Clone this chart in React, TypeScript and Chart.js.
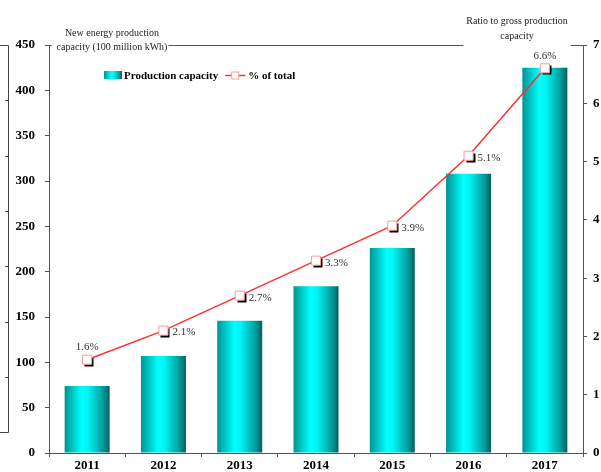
import React, { useEffect, useRef } from 'react';
import { Chart, registerables } from 'chart.js';

Chart.register(...registerables);

// ---- data ----
const years = ['2011', '2012', '2013', '2014', '2015', '2016', '2017'];
const capacity = [74, 107, 146, 184, 226, 308, 425];
const shareOfTotal = [1.6, 2.1, 2.7, 3.3, 3.9, 5.1, 6.6];
const shareLabelSide = ['above', 'right', 'right', 'right', 'right', 'right', 'above'];
const leftAxisTitle = ['New energy production', 'capacity (100 million kWh)'];
const rightAxisTitle = ['Ratio to gross production', 'capacity'];
const seriesNames = ['Production capacity', '% of total'];

const CANVAS_W = 612;
const CANVAS_H = 472;
const BAR_PCT = 0.59;
const SERIF = "'Liberation Serif', 'DejaVu Serif', serif";
const AXIS_COLOR = '#555';
const LINE_COLOR = '#ff3030';
const MARKER_BORDER = '#ff9a9a';

function barGradient(ctx: CanvasRenderingContext2D, x0: number, x1: number) {
  const g = ctx.createLinearGradient(x0, 0, x1, 0);
  g.addColorStop(0, '#009494');
  g.addColorStop(0.38, '#00ffff');
  g.addColorStop(0.52, '#00f4f4');
  g.addColorStop(0.85, '#009c9c');
  g.addColorStop(1, '#005e5e');
  return g;
}

const decorPlugin = {
  id: 'decor',
  beforeDatasetDraw(chart: any, args: any) {
    if (args.index !== 1) return;
    const ctx = chart.ctx as CanvasRenderingContext2D;
    ctx.save();
    ctx.fillStyle = '#000';
    args.meta.data.forEach((p: any) => {
      ctx.fillRect(Math.round(p.x) - 4.5 + 2, Math.round(p.y) - 4.5 + 2, 9, 9);
    });
    ctx.restore();
  },
  afterDraw(chart: any) {
    const ctx = chart.ctx as CanvasRenderingContext2D;
    const area = chart.chartArea;
    ctx.save();

    // titles
    ctx.font = `10px ${SERIF}`;
    ctx.fillStyle = '#222';
    ctx.textAlign = 'center';
    ctx.textBaseline = 'middle';
    const lcx = area.left + 63;
    ctx.fillText(leftAxisTitle[0], lcx, area.top - 12);
    ctx.fillText(leftAxisTitle[1], lcx, area.top + 2);
    const rcx = area.right - 66;
    ctx.fillText(rightAxisTitle[0], rcx, area.top - 24);
    ctx.fillText(rightAxisTitle[1], rcx, area.top - 9);
    const lw = ctx.measureText(leftAxisTitle[1]).width;
    const rw = ctx.measureText(rightAxisTitle[0]).width;

    // top border with gaps
    ctx.strokeStyle = AXIS_COLOR;
    ctx.lineWidth = 1;
    const ty = Math.round(area.top) + 0.5;
    ctx.beginPath();
    ctx.moveTo(area.left, ty);
    ctx.lineTo(lcx - lw / 2 - 5, ty);
    ctx.moveTo(lcx + lw / 2 + 1, ty);
    ctx.lineTo(rcx - rw / 2 - 3, ty);
    ctx.moveTo(rcx + rw / 2 + 3, ty);
    ctx.lineTo(area.right, ty);
    ctx.stroke();

    // partial frame of the neighbouring (cropped) panel on the far left
    ctx.strokeStyle = '#444';
    ctx.beginPath();
    ctx.moveTo(0, ty);
    ctx.lineTo(8.5, ty);
    ctx.lineTo(8.5, 432.5);
    ctx.lineTo(0, 432.5);
    for (let k = 1; k < 7; k++) {
      const yy = Math.round(area.top + k * 55.3) + 0.5;
      ctx.moveTo(5, yy);
      ctx.lineTo(8.5, yy);
    }
    ctx.stroke();

    // legend
    const lx = area.left + 55;
    const ly = area.top + 30;
    ctx.fillStyle = barGradient(ctx, lx, lx + 18);
    ctx.fillRect(lx, ly - 4, 18, 8);
    ctx.font = `bold 11px ${SERIF}`;
    ctx.fillStyle = '#000';
    ctx.textAlign = 'left';
    ctx.fillText(seriesNames[0], lx + 20, ly + 1);
    const t1w = ctx.measureText(seriesNames[0]).width;
    const l2 = lx + 20 + t1w + 7;
    ctx.strokeStyle = LINE_COLOR;
    ctx.lineWidth = 1.5;
    ctx.beginPath();
    ctx.moveTo(l2, ly + 0.5);
    ctx.lineTo(l2 + 20, ly + 0.5);
    ctx.stroke();
    ctx.fillStyle = '#fff';
    ctx.fillRect(l2 + 6.5, ly - 3, 7, 7);
    ctx.strokeStyle = MARKER_BORDER;
    ctx.lineWidth = 1;
    ctx.strokeRect(l2 + 6.5, ly - 3, 7, 7);
    ctx.fillStyle = '#000';
    ctx.fillText(seriesNames[1], l2 + 23, ly + 1);

    // data labels for the percentage line
    const meta = chart.getDatasetMeta(1);
    ctx.font = `11px ${SERIF}`;
    ctx.fillStyle = '#333';
    meta.data.forEach((p: any, i: number) => {
      const txt = shareOfTotal[i].toFixed(1) + '%';
      if (shareLabelSide[i] === 'above') {
        ctx.textAlign = 'center';
        ctx.textBaseline = 'bottom';
        ctx.fillText(txt, p.x, p.y - 7);
      } else {
        ctx.textAlign = 'left';
        ctx.textBaseline = 'middle';
        ctx.fillText(txt, p.x + 9, p.y + 2);
      }
    });
    ctx.restore();
  },
};

export default function App() {
  const ref = useRef<HTMLCanvasElement | null>(null);

  useEffect(() => {
    if (!ref.current) return;
    const chart = new Chart(ref.current, {
      type: 'bar',
      data: {
        labels: years,
        datasets: [
          {
            type: 'bar',
            label: seriesNames[0],
            data: capacity,
            yAxisID: 'y',
            order: 2,
            barPercentage: BAR_PCT,
            categoryPercentage: 1,
            borderWidth: 0,
            backgroundColor: (c: any) => {
              const ch = c.chart;
              const area = ch.chartArea;
              if (!area || c.dataIndex === undefined) return '#00cccc';
              const cx = ch.scales.x.getPixelForValue(c.dataIndex);
              const half = ((area.right - area.left) / years.length) * BAR_PCT / 2;
              return barGradient(ch.ctx, cx - half, cx + half);
            },
          } as any,
          {
            type: 'line',
            label: seriesNames[1],
            data: shareOfTotal,
            yAxisID: 'y1',
            order: 1,
            borderColor: LINE_COLOR,
            borderWidth: 1.5,
            pointStyle: 'rect',
            pointRadius: 6.4,
            pointBackgroundColor: '#fff',
            pointBorderColor: MARKER_BORDER,
            pointBorderWidth: 1,
            tension: 0,
          } as any,
        ],
      },
      options: {
        animation: false,
        responsive: false,
        devicePixelRatio: 1,
        layout: { padding: { top: 45, left: 0, right: 0, bottom: 0 } },
        plugins: {
          legend: { display: false },
          tooltip: { enabled: false },
        },
        scales: {
          x: {
            offset: true,
            grid: {
              offset: true,
              drawOnChartArea: false,
              tickLength: 4,
              color: AXIS_COLOR,
            },
            border: { display: true, color: AXIS_COLOR, width: 1 },
            ticks: {
              color: '#000',
              padding: 1,
              font: { family: SERIF, size: 13, weight: 'bold' },
              maxRotation: 0,
            },
            afterFit: (s: any) => {
              s.height = 19;
            },
          },
          y: {
            position: 'left',
            min: 0,
            max: 450,
            ticks: {
              stepSize: 50,
              color: '#000',
              padding: 10,
              font: { family: SERIF, size: 13, weight: 'bold' },
            },
            grid: { drawOnChartArea: false, tickLength: 4, color: AXIS_COLOR },
            border: { display: true, color: AXIS_COLOR, width: 1 },
            afterFit: (s: any) => {
              s.width = 49;
            },
          },
          y1: {
            position: 'right',
            min: 0,
            max: 7,
            ticks: {
              stepSize: 1,
              color: '#000',
              padding: 6,
              font: { family: SERIF, size: 13, weight: 'bold' },
            },
            grid: { drawOnChartArea: false, tickLength: 4, color: AXIS_COLOR },
            border: { display: true, color: AXIS_COLOR, width: 1 },
            afterFit: (s: any) => {
              s.width = CANVAS_W - 583;
            },
          },
        },
      },
      plugins: [decorPlugin],
    });
    return () => chart.destroy();
  }, []);

  return (
    <div
      style={{
        position: 'absolute',
        left: 0,
        top: 0,
        width: 601,
        height: 472,
        overflow: 'hidden',
        background: '#fff',
      }}
    >
      <canvas
        ref={ref}
        width={CANVAS_W}
        height={CANVAS_H}
        style={{ display: 'block', width: CANVAS_W, height: CANVAS_H }}
      />
    </div>
  );
}
